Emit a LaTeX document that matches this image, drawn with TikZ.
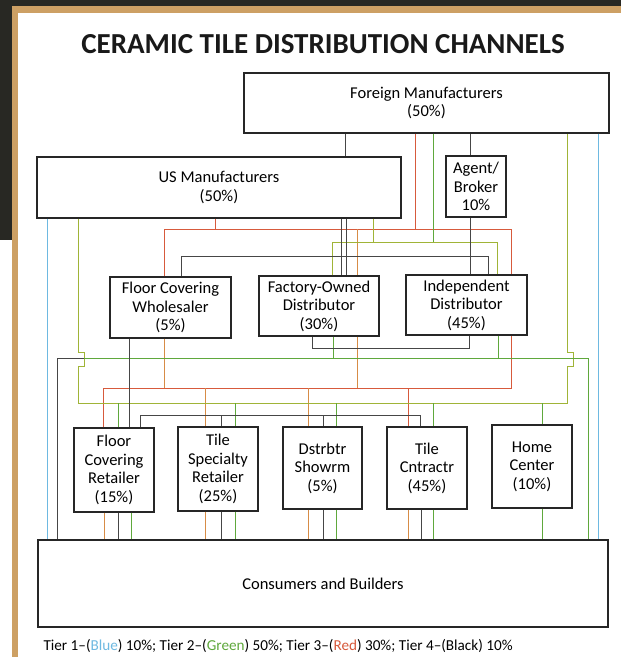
\documentclass[tikz,border=0pt]{standalone}
\usepackage{fontspec}
\setmainfont{Carlito}
\definecolor{tblue}{RGB}{110,185,225}
\definecolor{tgreen}{RGB}{95,168,60}
\definecolor{tyel}{RGB}{160,180,55}
\definecolor{tred}{RGB}{215,90,60}
\definecolor{torange}{RGB}{215,140,70}
\definecolor{tblack}{RGB}{70,70,70}
\definecolor{tanframe}{RGB}{205,160,100}
\definecolor{darkscan}{RGB}{40,40,35}
\tikzset{
  box/.style={draw=black!85, line width=1.3pt, align=center, inner sep=0pt,
    font=\fontsize{16.5}{18.5}\selectfont, text=black},
  t1/.style={draw=tblue, line width=1pt},
  t2/.style={draw=tgreen, line width=1pt},
  t2y/.style={draw=tyel, line width=1pt},
  t3/.style={draw=tred, line width=1pt},
  t3o/.style={draw=torange, line width=1pt},
  t4/.style={draw=tblack, line width=1pt},
}
\begin{document}
\begin{tikzpicture}[x=1pt,y=-1pt]
\useasboundingbox (0,0) rectangle (621,657);
% scan frame
\fill[white] (0,0) rectangle (621,657);
\fill[darkscan] (0,0) rectangle (621,6);
\fill[darkscan] (0,0) rectangle (12,240);
\fill[tanframe] (12,6) rectangle (621,13);
\fill[tanframe] (12,6) rectangle (18,657);

% title
\node[anchor=base, font=\fontsize{29}{34}\selectfont\bfseries, text=black!90] (title) at (323,53) {CERAMIC TILE DISTRIBUTION CHANNELS};

% boxes
\node[box, minimum width=365, minimum height=60] (fm) at (426.5,103) {Foreign Manufacturers\\(50\%)};
\node[box, minimum width=364, minimum height=61] (us) at (219,187.5) {US Manufacturers\\(50\%)};
\node[box, minimum width=60, minimum height=61] (ab) at (476,186.5) {Agent/\\Broker\\10\%};
\node[box, minimum width=121, minimum height=61] (fcw) at (170.5,307.5) {Floor Covering\\Wholesaler\\(5\%)};
\node[box, minimum width=120, minimum height=60] (fod) at (319,306) {Factory-Owned\\Distributor\\(30\%)};
\node[box, minimum width=121, minimum height=60] (ind) at (466.5,305) {Independent\\Distributor\\(45\%)};
\node[box, minimum width=80, minimum height=84] (fcr) at (114,470) {Floor\\Covering\\Retailer\\(15\%)};
\node[box, minimum width=80, minimum height=84] (tsr) at (218,469) {Tile\\Specialty\\Retailer\\(25\%)};
\node[box, minimum width=79, minimum height=82] (dsr) at (322.5,468) {Dstrbtr\\Showrm\\(5\%)};
\node[box, minimum width=80, minimum height=82] (tc) at (427,468) {Tile\\Cntractr\\(45\%)};
\node[box, minimum width=80, minimum height=83] (hc) at (532,466.5) {Home\\Center\\(10\%)};
\node[box, minimum width=570, minimum height=87] (cb) at (323,583.5) {Consumers and Builders};

% legend
\node[anchor=base west, font=\fontsize{15.2}{18}\selectfont, text=black] (legend) at (40,650)
  {Tier 1–(\textcolor{tblue}{Blue}) 10\%; Tier 2–(\textcolor{tgreen}{Green}) 50\%; Tier 3–(\textcolor{tred}{Red}) 30\%; Tier 4–(Black) 10\%};

% ---- Tier 1 (blue)
\draw[t1] (us.south -| 47,0) -- (cb.north -| 47,0);
\draw[t1] (fm.south -| 598,0) -- (cb.north -| 598,0);

% ---- Tier 3 (red)
\draw[t3] (fcw.north -| 164,0) |- (511,229) -- (ind.north -| 511,0);
\draw[t3] (us.south -| 215,0) -- (215,229);
\draw[t3] (fm.south -| 415,0) -- (415,229);
\draw[t3o] (357,229) -- (fod.north -| 357,0);
\draw[t3] (fcr.north -| 103,0) |- (511,388) -- (ind.south -| 511,0);
\draw[t3o] (fcw.south -| 164,0) -- (164,388);
\draw[t3o] (fod.south -| 357,0) -- (357,388);
\draw[t3o] (205,388) -- (tsr.north -| 205,0);
\draw[t3o] (308,388) -- (dsr.north -| 308,0);
\draw[t3] (408,388) -- (tc.north -| 408,0);
\draw[t3o] (fcr.south -| 104,0) -- (cb.north -| 104,0);
\draw[t3o] (tsr.south -| 205,0) -- (cb.north -| 205,0);
\draw[t3o] (dsr.south -| 308,0) -- (cb.north -| 308,0);
\draw[t3o] (tc.south -| 408,0) -- (cb.north -| 408,0);

% ---- Tier 2 (green)
\draw[t2y] (fod.north -| 332,0) |- (497,242) -- (ind.north -| 497,0);
\draw[t2y] (us.south -| 373,0) -- (373,242);
\draw[t2] (fm.south -| 433,0) -- (433,242);
\draw[t2y] (us.south -| 78,0) -- (78,352) -- (84,352) -- (84,366) -- (78,366) -- (78,403)
   -- (567,403) -- (567,366) -- (573,366) -- (573,352) -- (567,352) -- (fm.south -| 567,0);
\draw[t2] (118,403) -- (fcr.north -| 118,0);
\draw[t2] (235,403) -- (tsr.north -| 235,0);
\draw[t2] (336,403) -- (dsr.north -| 336,0);
\draw[t2] (433,403) -- (tc.north -| 433,0);
\draw[t2] (542,403) -- (hc.north -| 542,0);
\draw[t2] (fod.south -| 333,0) -- (333,358);
\draw[t2] (ind.south -| 498,0) -- (498,358);
\draw[t2] (84,358) -- (588,358) -- (cb.north -| 588,0);
\draw[t2] (fcr.south -| 131,0) -- (cb.north -| 131,0);
\draw[t2] (tsr.south -| 235,0) -- (cb.north -| 235,0);
\draw[t2] (dsr.south -| 336,0) -- (cb.north -| 336,0);
\draw[t2] (tc.south -| 433,0) -- (cb.north -| 433,0);
\draw[t2] (hc.south -| 542,0) -- (cb.north -| 542,0);

% ---- Tier 4 (black)
\draw[t4] (fm.south -| 345,0) -- (us.north -| 345,0);
\draw[t4] (fm.south -| 470,0) -- (ab.north -| 470,0);
\draw[t4] (ab.south -| 470,0) -- (ind.north -| 470,0);
\draw[t4] (us.south -| 341,0) -- (fod.north -| 341,0);
\draw[t4] (us.south -| 346,0) -- (fod.north -| 346,0);
\draw[t4] (fcw.north -| 181,0) |- (488,256) -- (ind.north -| 488,0);
\draw[t4] (fod.south -| 312,0) |- (469,348) -- (ind.south -| 469,0);
\draw[t4] (fcw.south -| 129,0) -- (fcr.north -| 129,0);
\draw[t4] (fcr.north -| 140,0) |- (420,415) -- (tc.north -| 420,0);
\draw[t4] (221,415) -- (tsr.north -| 221,0);
\draw[t4] (323,415) -- (dsr.north -| 323,0);
\draw[t4] (cb.north -| 57,0) |- (84,358);
\draw[t4] (fcr.south -| 118,0) -- (cb.north -| 118,0);
\draw[t4] (tsr.south -| 221,0) -- (cb.north -| 221,0);
\draw[t4] (dsr.south -| 323,0) -- (cb.north -| 323,0);
\draw[t4] (tc.south -| 421,0) -- (cb.north -| 421,0);
\end{tikzpicture}
\end{document}
